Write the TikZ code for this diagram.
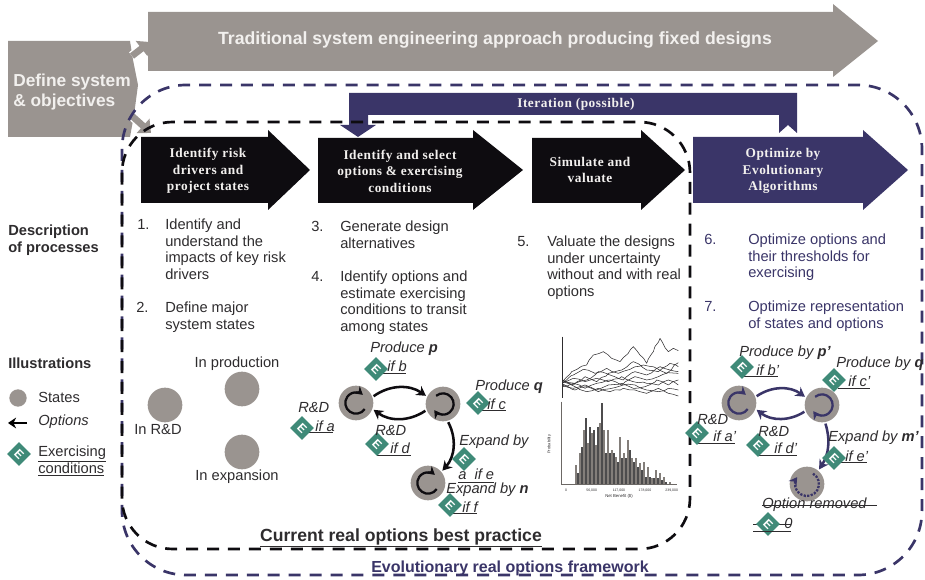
\documentclass[tikz,border=0pt]{standalone}
\usepackage{fontspec}
\setmainfont{Liberation Sans}
\newfontfamily\serifface{Liberation Serif}[LetterSpace=4]
\usetikzlibrary{arrows.meta,decorations.pathmorphing}
\definecolor{gr}{HTML}{9A9490}
\definecolor{navy}{HTML}{3A3568}
\definecolor{deep}{HTML}{0E0C10}
\definecolor{teal}{HTML}{3F8A78}
\definecolor{ink}{HTML}{2E2C2E}
\definecolor{softw}{HTML}{F2F0EE}
\tikzset{
  x=0.75pt,y=-0.75pt,
  dashb/.style={line width=2pt,dash pattern=on 9pt off 6.7pt},
  bodyt/.style={inner sep=0pt,anchor=north west,align=left,text=ink,font=\fontsize{11}{12.4}\selectfont},
  navyt/.style={bodyt,text=navy},
  headt/.style={inner sep=0pt,align=center,text=softw,font=\serifface\bfseries\fontsize{10}{12.4}\selectfont},
  statec/.style={circle,fill=gr,inner sep=0pt,minimum size=26pt},
  diam/.style={rotate=-45,fill=teal,inner sep=0pt,minimum size=12.7pt,text=white,font=\bfseries\fontsize{9}{9}\selectfont},
  labt/.style={inner sep=0pt,anchor=west,text=ink,font=\itshape\fontsize{11}{12}\selectfont},
  optk/.style={line width=1.9pt,-{Stealth[length=7pt,width=8pt]},shorten >=1pt,shorten <=1pt},
  loopk/.style={line width=1.7pt,-{Stealth[length=6pt,width=7pt]}},
  grarrow/.style={line width=5pt,gr,-{Triangle[length=8pt,width=14pt]}},
  walk/.style={ink,line width=0.4pt,line join=round,decorate,decoration={random steps,segment length=4pt,amplitude=0.7pt}},
}
% #1 name, #2 diamond pos, #3 text pos, #4 text, #5 underline start x, #6 underline end x, #7 underline y
\newcommand{\econd}[7]{%
  \draw[ink,line width=0.7pt] (#5,#7) -- (#6,#7);
  \node[diam] (#1d) at (#2) {E};
  \node[labt] (#1t) at (#3) {#4};
}
\newcommand{\plainlab}[3]{\node[labt] (#1) at (#2) {#3};}
% circular arrow inside a state: node, start angle, end angle, colour
\newcommand{\stloop}[4]{\draw[loopk,#4] ([shift={(#2:8pt)}]#1.center) arc[start angle=#2,end angle=#3,radius=8pt];}
\begin{document}
\begin{tikzpicture}
\useasboundingbox (0,0) rectangle (925,580);
\pgfmathsetseed{7}
% Top arrow
\fill[gr] (148,12) -- (833,12) -- (833,4) -- (878,41) -- (833,77) -- (833,71) -- (148,71) -- cycle;
\node[inner sep=0pt,text=softw,font=\bfseries\fontsize{13.25}{15}\selectfont] (toptext) at (495,40) {Traditional system engineering approach producing fixed designs};
% Define box
\fill[gr] (8,41) -- (130,41) -- (133,60) -- (138,85) -- (134,115) -- (130,137) -- (8,137) -- cycle;
\node[inner sep=0pt,anchor=west,align=left,text=softw,font=\bfseries\fontsize{13}{15}\selectfont] (define) at (13,92) {Define system\\\& objectives};
\coordinate (defU) at (132,56);
\coordinate (defD) at (132,116);
\coordinate (topIn) at (150,42);
\coordinate (frameIn) at (151,133);
\draw[white,line width=7pt,shorten >=6pt] (defU) -- (topIn);
\draw[white,line width=7pt,shorten >=6pt] (defD) -- (frameIn);
\draw[grarrow] (defU) -- (topIn);
\draw[grarrow] (defD) -- (frameIn);
% Iteration
\fill[navy] (349,93) -- (797,93) -- (797,133) -- (788,125) -- (779,133) -- (779,115) -- (368,115) -- (368,125) -- (376,125) -- (358,137) -- (340,125) -- (349,125) -- cycle;
\node[headt] (iter) at (576,104) {Iteration (possible)};
% Frames
\draw[navy,dashb,rounded corners=48pt] (122,85) rectangle (922,575);
\draw[deep,dashb,rounded corners=38pt] (122,122) rectangle (690,549);
% Chevrons
\fill[deep] (141,137) -- (268,137) -- (268,130) -- (310,170) -- (268,210) -- (268,203) -- (141,203) -- cycle;
\node[headt] (h1) at (208,171) {Identify risk\\drivers and\\project states};
\fill[deep] (318,138) -- (473,138) -- (473,130) -- (523,170) -- (473,210) -- (473,203) -- (318,203) -- cycle;
\node[headt] (h2) at (400,171) {Identify and select\\options \& exercising\\conditions};
\fill[deep] (532,138) -- (641,138) -- (641,130) -- (685,170) -- (641,210) -- (641,203) -- (532,203) -- cycle;
\node[headt] (h3) at (590,170) {Simulate and\\valuate};
\fill[navy] (693,137) -- (863,137) -- (863,130) -- (908,170) -- (863,210) -- (863,203) -- (693,203) -- cycle;
\node[headt] (h4) at (783,171) {Optimize by\\Evolutionary\\Algorithms};
% Left captions
\node[bodyt,font=\bfseries\fontsize{11}{12.6}\selectfont] (desc) at (8,225) {Description\\of processes};
\node[bodyt,font=\bfseries\fontsize{11}{12.6}\selectfont] (illu) at (8,358) {Illustrations};
\node[statec,minimum size=13pt] (legS) at (18,398) {};
\node[bodyt,anchor=west] (legSt) at (38,397) {States};
\coordinate (legA) at (27,423);
\coordinate (legB) at (8,423);
\draw[line width=1.7pt,-{Stealth[length=6pt,width=8pt]}] (legA) -- (legB);
\node[bodyt,anchor=west,font=\itshape\fontsize{11}{12}\selectfont] (legAt) at (38,422) {Options};
\node[diam] (legD) at (19,454) {E};
\node[bodyt,anchor=west] (legDt) at (38,461) {\underline{Exercising}\\\underline{conditions}};
% Process text
\node[bodyt] (n1) at (137,219) {1.};
\node[bodyt] (t1) at (165,219) {Identify and\\understand the\\impacts of key risk\\drivers};
\node[bodyt] (n2) at (136,302) {2.};
\node[bodyt] (t2) at (165,302) {Define major\\system states};
\node[bodyt] (n3) at (311,221) {3.};
\node[bodyt] (t3) at (340,221) {Generate design\\alternatives};
\node[bodyt] (n4) at (311,271) {4.};
\node[bodyt] (t4) at (340,271) {Identify options and\\estimate exercising\\conditions to transit\\among states};
\node[bodyt] (n5) at (517,236) {5.};
\node[bodyt] (t5) at (547,236) {Valuate the designs\\under uncertainty\\without and with real\\options};
\node[navyt] (n6) at (704,234) {6.};
\node[navyt] (t6) at (748,234) {Optimize options and\\their thresholds for\\exercising};
\node[navyt] (n7) at (704,301) {7.};
\node[navyt] (t7) at (748,301) {Optimize representation\\of states and options};
% Plain states
\node[statec] (rd) at (165,405) {};
\node[statec] (pr) at (242,389) {};
\node[statec] (ex) at (242,452) {};
\node[bodyt,anchor=center] (rdt) at (158,429) {In R\&D};
\node[bodyt,anchor=center] (prt) at (237,364) {In production};
\node[bodyt,anchor=center] (ext) at (237,477) {In expansion};
% Middle state diagram
\node[statec] (s1) at (356,403) {};
\node[statec] (s2) at (443,404) {};
\node[statec] (s3) at (428,483) {};
\stloop{s1}{325}{50}{deep}
\stloop{s2}{130}{-145}{deep}
\stloop{s3}{325}{50}{deep}
\draw[optk,deep] (s1.20) to[bend left=35] (s2.155);
\draw[optk,deep] (s2.200) to[bend left=35] (s1.-20);
\draw[optk,deep] (s2.-75) to[bend left=35] (s3.40);
\econd{cb}{376,369}{387,366}{if b}{376}{406}{373}
\plainlab{lp}{370,349}{Produce \textbf{p}}
\econd{cc}{478,403}{487,404}{if c}{478}{506}{410}
\plainlab{lq}{475,387}{Produce \textbf{q}}
\econd{ca}{302,428}{315,426}{if a}{302}{333}{432}
\plainlab{la}{298,408}{R\&D}
\econd{cd}{377,444}{390,448}{if d}{377}{411}{455}
\plainlab{ld}{375,431}{R\&D}
\econd{ce}{464,459}{458,474}{a\ \ if e}{458}{494}{482}
\plainlab{le}{459,442}{Expand by}
\econd{cf}{450,505}{462,507}{if f}{450}{477}{513}
\plainlab{lf}{446,490}{Expand by \textbf{n}}
% Right state diagram
\node[statec] (r1) at (739,403) {};
\node[statec] (r2) at (822,405) {};
\node[statec] (r3) at (807,484) {};
\stloop{r1}{325}{50}{navy}
\stloop{r2}{130}{-145}{navy}
\draw[loopk,navy,densely dotted] ([shift={(60:9pt)}]r3.center) arc[start angle=60,end angle=-215,radius=9pt];
\draw[optk,navy] (r1.20) to[bend left=35] (r2.155);
\draw[optk,navy] (r2.200) to[bend left=35] (r1.-20);
\draw[optk,navy] (r2.-80) to[bend left=25] (r3.50);
\econd{db}{742,367}{756,370}{if b'}{740}{778}{376}
\plainlab{mp}{739,353}{Produce by \textbf{p'}}
\econd{dc}{834,380}{848,381}{if c'}{838}{870}{388}
\plainlab{mq}{836,364}{Produce by \textbf{q}}
\econd{da}{697,433}{713,436}{if a'}{697}{735}{443}
\plainlab{ma}{697,419}{R\&D}
\econd{dd}{758,445}{774,448}{if d'}{758}{797}{455}
\plainlab{md}{758,432}{R\&D}
\econd{de}{834,458}{845,456}{if e'}{840}{867}{462}
\plainlab{me}{828,438}{Expand by \textbf{m'}}
\draw[ink,line width=0.7pt] (753,524) -- (791,524);
\node[labt] (mz) at (784,523) {0};
\node[diam] (dz) at (768,524) {E};
\draw[ink,line width=0.7pt] (753,531) -- (791,531);
\node[labt] (mr) at (762,505) {Option removed};
\draw[ink,line width=0.7pt] (762,505) -- (877,505);
% Simulation plots, in coordinates of a 3x enlargement
\begin{scope}[shift={(540,330)},x=0.25pt,y=-0.25pt]
\draw[ink,line width=0.5pt] (68,20) -- (68,205);
\draw[walk]
 (68,155) -- (95,125) -- (140,105) -- (160,75) -- (190,65) -- (215,85) -- (240,95) -- (280,50) -- (300,75) -- (320,100) -- (340,65) -- (360,25) -- (385,65) -- (400,55) -- (415,62);
\foreach \p in {
 {(68,160) -- (100,135) -- (130,118) -- (165,130) -- (200,115) -- (235,130) -- (270,118) -- (310,105) -- (350,115) -- (380,130) -- (415,98)},
 {(68,150) -- (105,160) -- (140,150) -- (175,125) -- (210,135) -- (250,150) -- (285,125) -- (320,135) -- (360,110) -- (390,120) -- (415,125)},
 {(68,165) -- (100,175) -- (135,165) -- (170,180) -- (205,165) -- (245,160) -- (280,175) -- (315,170) -- (350,150) -- (385,165) -- (415,150)},
 {(68,155) -- (105,170) -- (140,185) -- (175,175) -- (210,185) -- (250,175) -- (285,180) -- (320,190) -- (355,175) -- (385,190) -- (415,198)},
 {(68,170) -- (100,160) -- (135,175) -- (170,160) -- (210,150) -- (245,165) -- (285,140) -- (320,150) -- (355,140) -- (385,128) -- (415,130)},
 {(68,158) -- (100,145) -- (135,155) -- (170,145) -- (205,155) -- (245,140) -- (280,155) -- (320,160) -- (355,165) -- (385,150) -- (415,165)},
 {(68,162) -- (105,180) -- (140,170) -- (175,185) -- (215,175) -- (250,165) -- (285,165) -- (320,180) -- (355,185) -- (385,175) -- (415,180)},
 {(68,152) -- (100,165) -- (135,140) -- (170,155) -- (205,130) -- (245,120) -- (280,95) -- (320,120) -- (355,125) -- (390,100) -- (415,110)}}
 {\draw[walk] \p;}
\draw[gr!70!black,line width=0.4pt] (65,215) -- (65,462) -- (410,462);
\foreach \xa/\ya in {108/405,120/370,132/300,144/340,156/310,168/345,180/280,192/300,204/300,216/360,228/380,240/320,252/370,264/330,276/385,288/385,300/400,312/395,324/410,336/445,348/420,360/430,372/440,390/455}
 {\fill[gr!85!black] (\xa-3,\ya) rectangle (\xa+3,462);}
\foreach \xa/\ya in {114/430,126/350,138/265,150/290,162/300,174/290,186/218,198/370,210/370,222/370,234/395,246/385,258/385,270/360,282/395,294/410,306/420,318/440,330/440,342/445,354/445,366/450,378/455}
 {\fill[ink!85] (\xa-2.5,\ya) rectangle (\xa+2.5,462);}
\node[inner sep=0pt,rotate=90,text=ink,font=\fontsize{3}{3}\selectfont] (yl) at (28,343) {Probability};
\node[inner sep=0pt,text=ink,font=\fontsize{3.2}{3}\selectfont] (xl) at (237,498) {Net Benefit (\$)};
\foreach \xa/\lab in {78/{0},155/{56,000},237/{117,000},315/{178,000},395/{239,000}}
 {\node[inner sep=0pt,text=ink,font=\fontsize{2.6}{3}\selectfont] at (\xa,481) {\lab};}
\end{scope}
% Frame titles
\node[inner sep=0pt,text=ink,font=\bfseries\fontsize{13.2}{15}\selectfont] (cur) at (401,538) {\underline{Current real options best practice}};
\node[inner sep=0pt,text=navy,font=\bfseries\fontsize{12}{14}\selectfont] (evo) at (510,568) {Evolutionary real options framework};
\end{tikzpicture}
\end{document}
